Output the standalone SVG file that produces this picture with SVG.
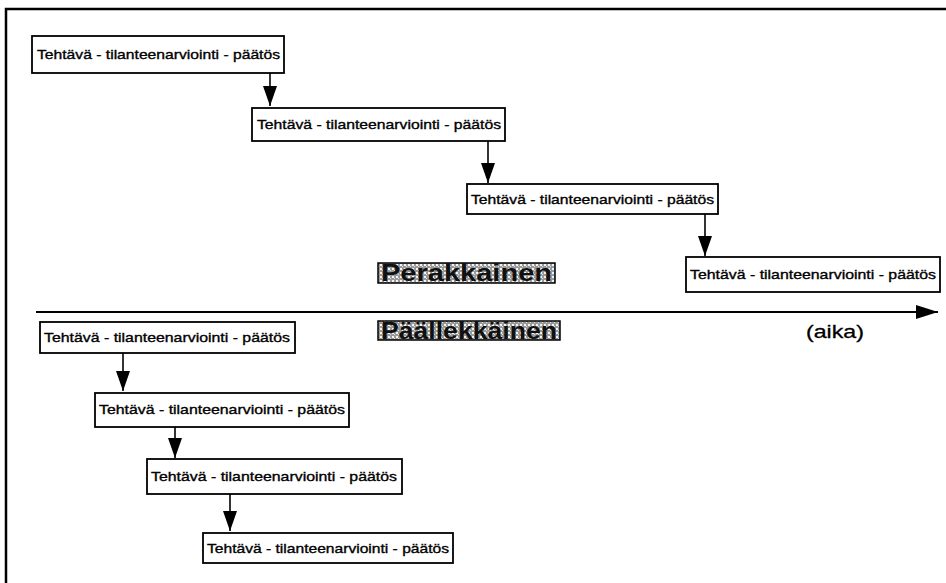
<svg xmlns="http://www.w3.org/2000/svg" width="946" height="583" viewBox="0 0 946 583">
  <defs>
    <pattern id="screen" width="4" height="4" patternUnits="userSpaceOnUse">
      <rect width="4" height="4" fill="#9a9a9a"/>
      <rect x="0" y="0" width="2" height="2" fill="#f4f4f4"/>
      <rect x="2" y="2" width="1" height="1" fill="#e0e0e0"/>
    </pattern>
    <marker id="head" viewBox="0 0 20 14" refX="20" refY="7" markerWidth="20" markerHeight="14" markerUnits="userSpaceOnUse" orient="auto">
      <path d="M0,0 L20,7 L0,14 Z" fill="#000"/>
    </marker>
    <marker id="axisHead" viewBox="0 0 22 14" refX="22" refY="7" markerWidth="22" markerHeight="14" markerUnits="userSpaceOnUse" orient="auto">
      <path d="M0,0 L22,7 L0,14 Z" fill="#000"/>
    </marker>
  </defs>
  <style>
    .box { fill: #fff; stroke: #000; stroke-width: 1.8; }
    .lbl { font-family: "Liberation Sans", Arial, sans-serif; font-size: 13.5px; fill: #000; stroke: #000; stroke-width: 0.35; }
    .conn { stroke: #000; stroke-width: 1.6; fill: none; }
    .tag { fill: url(#screen); stroke: #000; stroke-width: 1.5; }
    .tagtxt { font-family: "Liberation Sans", Arial, sans-serif; font-weight: bold; font-size: 23px; fill: #111; }
    .frame { stroke: #000; stroke-width: 2.5; fill: none; }
  </style>

  <!-- page frame -->
  <path class="frame" d="M6,583 L6,9 L946,9"/>

  <!-- connectors -->
  <g id="connectors">
    <line class="conn" x1="270" y1="73" x2="270" y2="106" marker-end="url(#head)"/>
    <line class="conn" x1="488" y1="141" x2="488" y2="183" marker-end="url(#head)"/>
    <line class="conn" x1="705" y1="214" x2="705" y2="256" marker-end="url(#head)"/>
    <line class="conn" x1="123" y1="353" x2="123" y2="391" marker-end="url(#head)"/>
    <line class="conn" x1="175" y1="427" x2="175" y2="458" marker-end="url(#head)"/>
    <line class="conn" x1="230" y1="494" x2="230" y2="531" marker-end="url(#head)"/>
    <!-- time axis -->
    <line x1="36" y1="312" x2="938" y2="312" stroke="#000" stroke-width="2" marker-end="url(#axisHead)"/>
  </g>

  <!-- sequential chain -->
  <g id="seq1">
    <rect class="box" x="32" y="36" width="252" height="37"/>
    <text class="lbl" x="37" y="59" textLength="243" lengthAdjust="spacingAndGlyphs">Tehtävä - tilanteenarviointi - päätös</text>
  </g>
  <g id="seq2">
    <rect class="box" x="252" y="108" width="253" height="33"/>
    <text class="lbl" x="257" y="129" textLength="244" lengthAdjust="spacingAndGlyphs">Tehtävä - tilanteenarviointi - päätös</text>
  </g>
  <g id="seq3">
    <rect class="box" x="467" y="184" width="251" height="30"/>
    <text class="lbl" x="471" y="204" textLength="243" lengthAdjust="spacingAndGlyphs">Tehtävä - tilanteenarviointi - päätös</text>
  </g>
  <g id="seq4">
    <rect class="box" x="686" y="257" width="254" height="35"/>
    <text class="lbl" x="690" y="279" textLength="246" lengthAdjust="spacingAndGlyphs">Tehtävä - tilanteenarviointi - päätös</text>
  </g>

  <!-- overlapping chain -->
  <g id="ovl1">
    <rect class="box" x="40" y="322" width="255" height="31"/>
    <text class="lbl" x="44" y="342" textLength="246" lengthAdjust="spacingAndGlyphs">Tehtävä - tilanteenarviointi - päätös</text>
  </g>
  <g id="ovl2">
    <rect class="box" x="95" y="393" width="254" height="34"/>
    <text class="lbl" x="99" y="414" textLength="246" lengthAdjust="spacingAndGlyphs">Tehtävä - tilanteenarviointi - päätös</text>
  </g>
  <g id="ovl3">
    <rect class="box" x="147" y="459" width="255" height="35"/>
    <text class="lbl" x="151" y="481" textLength="246" lengthAdjust="spacingAndGlyphs">Tehtävä - tilanteenarviointi - päätös</text>
  </g>
  <g id="ovl4">
    <rect class="box" x="203" y="533" width="250" height="30"/>
    <text class="lbl" x="207" y="553" textLength="242" lengthAdjust="spacingAndGlyphs">Tehtävä - tilanteenarviointi - päätös</text>
  </g>

  <!-- mode labels -->
  <g id="tag-sequential">
    <rect class="tag" x="378" y="263" width="177" height="20"/>
    <text class="tagtxt" x="381" y="281" textLength="171" lengthAdjust="spacingAndGlyphs">Perakkainen</text>
  </g>
  <g id="tag-overlapping">
    <rect class="tag" x="378" y="321" width="182" height="19"/>
    <text class="tagtxt" x="381" y="339" textLength="176" lengthAdjust="spacingAndGlyphs">Päällekkäinen</text>
  </g>

  <!-- axis label -->
  <text id="axis-label" x="806" y="338" font-family="Liberation Sans, Arial, sans-serif" font-size="19" fill="#000" stroke="#000" stroke-width="0.3" textLength="58" lengthAdjust="spacingAndGlyphs">(aika)</text>
</svg>
